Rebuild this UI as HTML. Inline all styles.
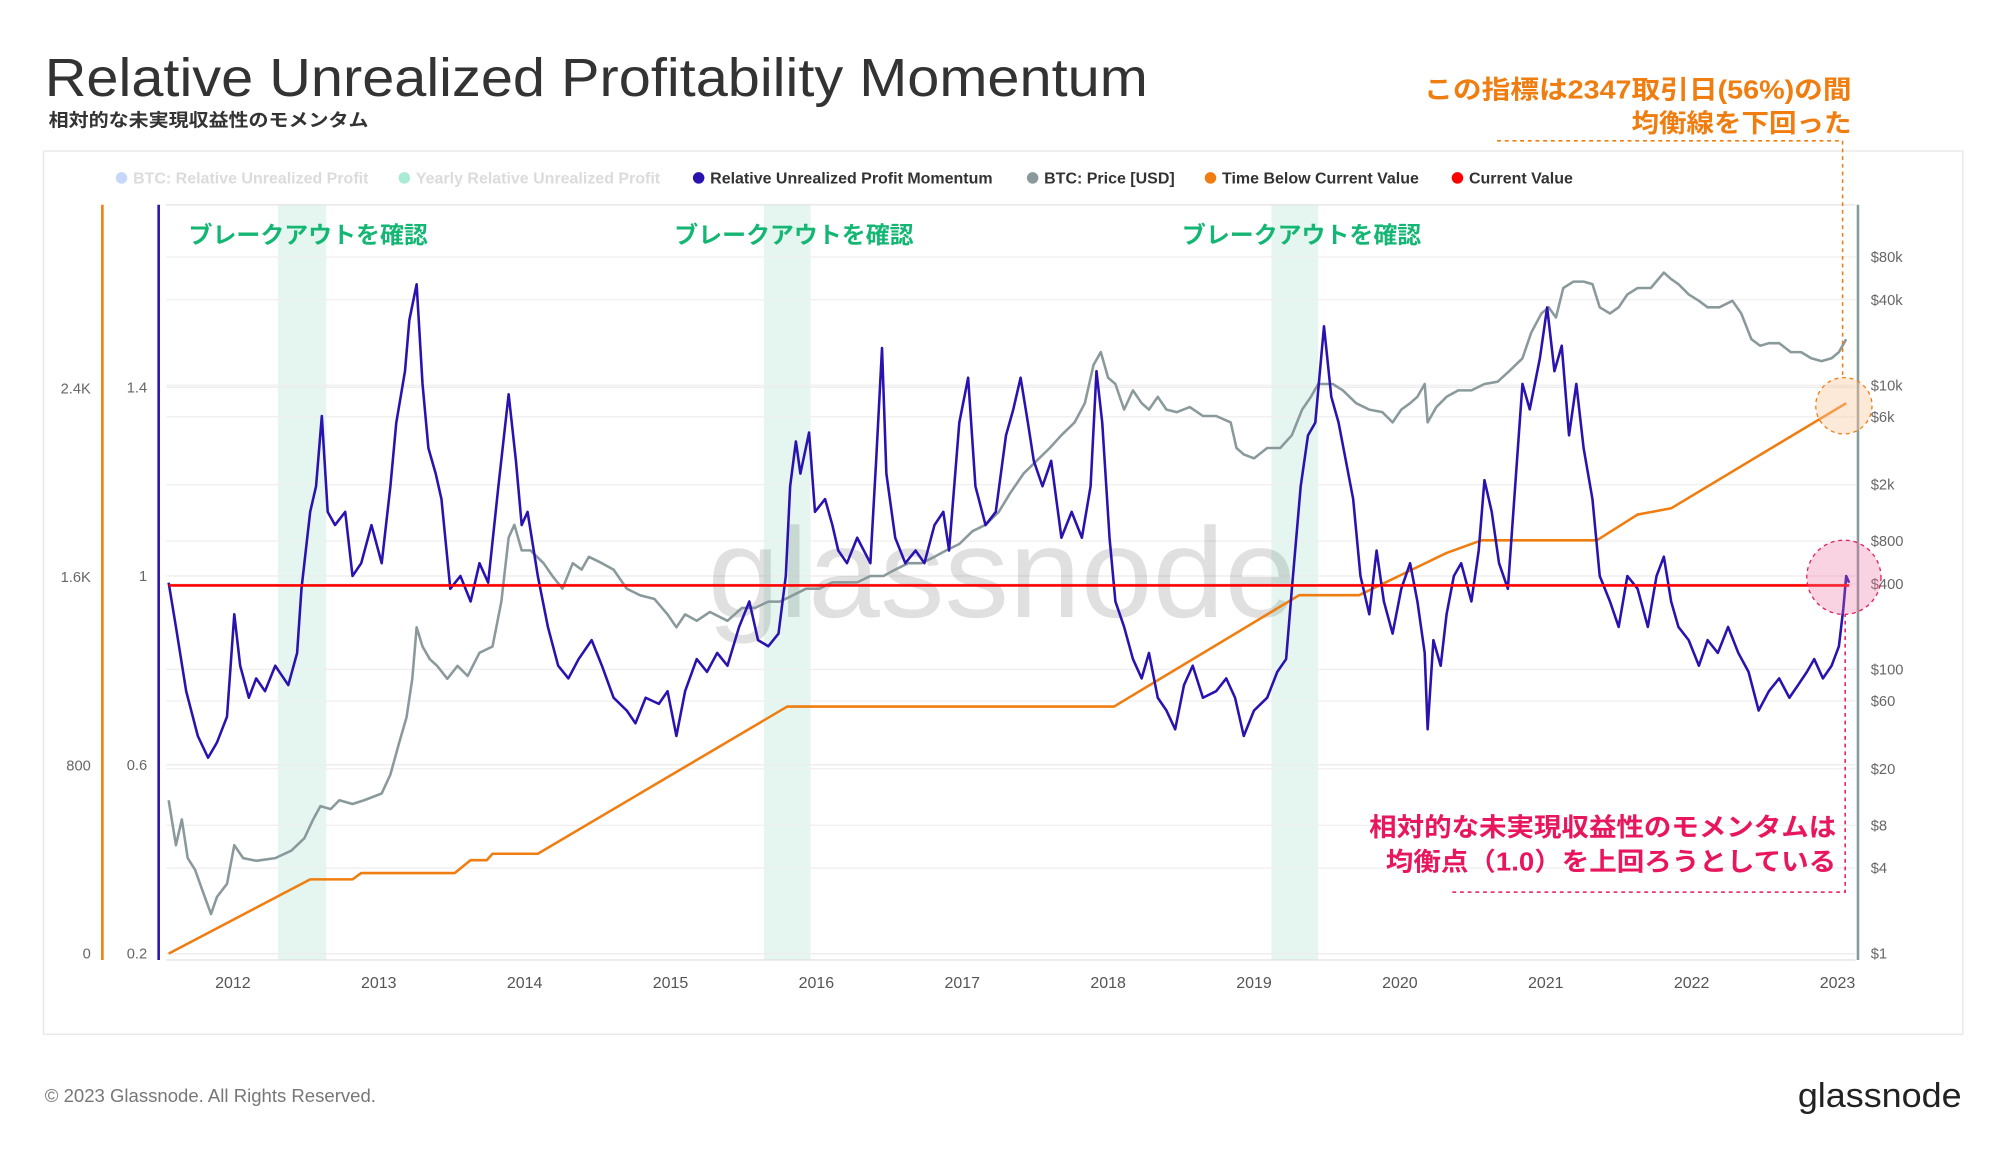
<!DOCTYPE html>
<html><head><meta charset="utf-8">
<style>
html,body{margin:0;padding:0;background:#fff;width:2000px;height:1152px;overflow:hidden}
svg{display:block;font-family:"Liberation Sans","Noto Sans CJK JP",sans-serif}
</style></head>
<body>
<svg id="chart" width="2000" height="1152" viewBox="0 0 1563 900" preserveAspectRatio="none" xmlns="http://www.w3.org/2000/svg">
<text x="35" y="75" font-size="42" fill="#333" textLength="862" lengthAdjust="spacingAndGlyphs">Relative Unrealized Profitability Momentum</text>
<text x="38" y="99" font-size="14" font-weight="bold" fill="#333" textLength="250" lengthAdjust="spacingAndGlyphs">相対的な未実現収益性のモメンタム</text>
<g font-size="20" font-weight="bold" fill="#f07d10" text-anchor="end">
<text x="1447" y="77" textLength="334" lengthAdjust="spacingAndGlyphs">この指標は2347取引日(56%)の間</text>
<text x="1447" y="103" textLength="172" lengthAdjust="spacingAndGlyphs">均衡線を下回った</text>
</g>
<rect x="34" y="118" width="1500" height="690" fill="none" stroke="#e6e6e6"/>
<g id="legend" font-size="12.5"></g>
<g id="bands"></g>
<g id="grid"></g>
<text x="553" y="482" font-size="100" fill="#000" fill-opacity="0.12" textLength="460" lengthAdjust="spacingAndGlyphs">glassnode</text>
<g id="series"></g>
<g id="axes"></g>
<g font-size="20" font-weight="bold" fill="#e8175d" text-anchor="end">
<text x="1435" y="653" textLength="365" lengthAdjust="spacingAndGlyphs">相対的な未実現収益性のモメンタムは</text>
<text x="1435" y="680" textLength="352" lengthAdjust="spacingAndGlyphs">均衡点（1.0）を上回ろうとしている</text>
</g>
<path d="M1170 110 H1440 V296" fill="none" stroke="#f07d10" stroke-width="1.2" stroke-dasharray="3,3"/>
<path d="M1135 697 H1442 V480" fill="none" stroke="#e8175d" stroke-width="1.2" stroke-dasharray="3,3"/>
<circle cx="1441" cy="317" r="22" fill="#f9c89a" fill-opacity="0.4" stroke="#f07d10" stroke-dasharray="3,3"/>
<circle cx="1441" cy="451" r="29" fill="#f06ea0" fill-opacity="0.3" stroke="#e8175d" stroke-dasharray="3,3"/>
<text x="35" y="861" font-size="14.5" fill="#777">© 2023 Glassnode. All Rights Reserved.</text>
<text x="1533" y="865" font-size="27" fill="#222" text-anchor="end" textLength="128" lengthAdjust="spacingAndGlyphs">glassnode</text>
</svg>
<script>
const momYears=[2011.56,2011.61,2011.68,2011.76,2011.83,2011.89,2011.96,2012.01,2012.05,2012.11,2012.16,2012.22,2012.29,2012.38,2012.44,2012.47,2012.53,2012.57,2012.61,2012.65,2012.70,2012.77,2012.82,2012.88,2012.95,2013.02,2013.08,2013.12,2013.18,2013.21,2013.26,2013.30,2013.34,2013.39,2013.43,2013.49,2013.56,2013.63,2013.69,2013.75,2013.82,2013.89,2013.94,2013.98,2014.02,2014.09,2014.16,2014.23,2014.30,2014.37,2014.46,2014.53,2014.61,2014.70,2014.76,2014.83,2014.92,2014.98,2015.04,2015.10,2015.18,2015.25,2015.32,2015.39,2015.47,2015.54,2015.60,2015.67,2015.74,2015.79,2015.82,2015.86,2015.89,2015.95,2015.99,2016.06,2016.11,2016.15,2016.21,2016.28,2016.37,2016.41,2016.45,2016.48,2016.54,2016.61,2016.68,2016.74,2016.81,2016.87,2016.91,2016.98,2017.04,2017.09,2017.16,2017.23,2017.30,2017.35,2017.40,2017.45,2017.49,2017.55,2017.61,2017.68,2017.75,2017.82,2017.88,2017.92,2017.96,2018.01,2018.05,2018.11,2018.17,2018.23,2018.28,2018.34,2018.40,2018.46,2018.52,2018.58,2018.65,2018.74,2018.81,2018.87,2018.93,2019.00,2019.09,2019.16,2019.22,2019.26,2019.32,2019.37,2019.42,2019.48,2019.53,2019.58,2019.63,2019.68,2019.73,2019.79,2019.84,2019.89,2019.95,2020.01,2020.07,2020.12,2020.17,2020.19,2020.23,2020.28,2020.32,2020.37,2020.42,2020.49,2020.54,2020.58,2020.63,2020.68,2020.74,2020.79,2020.84,2020.89,2020.96,2021.01,2021.06,2021.11,2021.16,2021.21,2021.26,2021.32,2021.37,2021.44,2021.50,2021.56,2021.63,2021.70,2021.76,2021.81,2021.86,2021.91,2021.98,2022.05,2022.11,2022.18,2022.25,2022.32,2022.39,2022.46,2022.53,2022.60,2022.67,2022.73,2022.79,2022.84,2022.90,2022.96,2023.01,2023.04,2023.06,2023.08];
const momValues=[0.986,0.892,0.756,0.661,0.615,0.647,0.702,0.919,0.810,0.742,0.783,0.756,0.810,0.769,0.837,0.973,1.136,1.190,1.339,1.136,1.108,1.136,1.0,1.027,1.108,1.027,1.190,1.325,1.434,1.542,1.618,1.407,1.271,1.217,1.163,0.973,1.0,0.946,1.027,0.986,1.190,1.385,1.244,1.108,1.136,1.0,0.892,0.810,0.783,0.824,0.864,0.810,0.742,0.715,0.688,0.742,0.729,0.756,0.661,0.756,0.824,0.797,0.837,0.810,0.892,0.946,0.864,0.851,0.878,1.0,1.190,1.285,1.217,1.304,1.136,1.163,1.108,1.054,1.027,1.081,1.027,1.244,1.483,1.217,1.081,1.027,1.054,1.027,1.108,1.136,1.054,1.325,1.420,1.190,1.108,1.136,1.298,1.353,1.420,1.325,1.244,1.190,1.244,1.081,1.136,1.081,1.190,1.434,1.325,1.081,0.946,0.892,0.824,0.783,0.837,0.742,0.715,0.675,0.769,0.810,0.742,0.756,0.783,0.742,0.661,0.715,0.742,0.797,0.824,0.973,1.190,1.298,1.325,1.529,1.380,1.325,1.244,1.163,1.0,0.919,1.054,0.946,0.878,0.973,1.027,0.946,0.837,0.675,0.864,0.810,0.919,1.0,1.027,0.946,1.054,1.203,1.136,1.027,0.973,1.190,1.407,1.353,1.461,1.569,1.434,1.488,1.298,1.407,1.271,1.163,1.0,0.946,0.892,1.0,0.973,0.892,1.0,1.041,0.946,0.892,0.864,0.810,0.864,0.837,0.892,0.837,0.797,0.715,0.756,0.783,0.742,0.769,0.797,0.824,0.783,0.810,0.851,0.932,1.0,0.986];
const priceYears=[2011.56,2011.61,2011.65,2011.69,2011.74,2011.79,2011.85,2011.89,2011.96,2012.01,2012.07,2012.16,2012.29,2012.40,2012.49,2012.55,2012.60,2012.67,2012.73,2012.82,2012.90,2013.02,2013.08,2013.14,2013.19,2013.23,2013.26,2013.30,2013.35,2013.40,2013.47,2013.54,2013.61,2013.69,2013.78,2013.84,2013.89,2013.93,2013.98,2014.04,2014.13,2014.19,2014.26,2014.33,2014.39,2014.44,2014.53,2014.61,2014.70,2014.79,2014.89,2014.98,2015.04,2015.10,2015.18,2015.27,2015.39,2015.49,2015.58,2015.67,2015.75,2015.84,2015.93,2016.02,2016.11,2016.19,2016.28,2016.37,2016.46,2016.54,2016.63,2016.72,2016.81,2016.89,2016.98,2017.07,2017.16,2017.25,2017.33,2017.42,2017.51,2017.60,2017.68,2017.77,2017.84,2017.90,2017.95,2018.00,2018.05,2018.11,2018.17,2018.23,2018.28,2018.34,2018.40,2018.47,2018.56,2018.65,2018.74,2018.84,2018.88,2018.93,2019.00,2019.09,2019.18,2019.26,2019.33,2019.39,2019.44,2019.49,2019.54,2019.61,2019.70,2019.79,2019.88,2019.95,2020.01,2020.07,2020.12,2020.17,2020.19,2020.25,2020.32,2020.40,2020.49,2020.58,2020.67,2020.75,2020.84,2020.90,2020.97,2021.02,2021.07,2021.12,2021.19,2021.26,2021.32,2021.37,2021.44,2021.50,2021.56,2021.63,2021.72,2021.81,2021.86,2021.91,2021.98,2022.05,2022.11,2022.19,2022.28,2022.34,2022.41,2022.47,2022.53,2022.60,2022.68,2022.75,2022.82,2022.89,2022.96,2023.01,2023.06];
const priceValues=[12,5.8,8.8,4.7,3.9,2.8,1.9,2.5,3.1,5.8,4.7,4.5,4.7,5.3,6.5,8.8,10.9,10.4,12,11.3,12,13.4,18.2,30.6,46,86,198,145,118,106,86,106,90,131,145,300,847,1042,689,689,559,455,370,559,504,621,559,504,370,333,313,244,198,244,220,254,220,271,271,300,300,333,370,370,410,410,410,455,455,504,559,559,621,689,764,940,1042,1282,1750,2390,2940,3620,4450,5480,7480,13900,17100,11300,10200,6740,9200,7480,6740,8300,6740,6470,7030,6080,6080,5480,3620,3260,3060,3620,3620,4450,6740,8300,10200,10200,10200,9200,7480,6740,6470,5480,6740,7480,8300,10200,5480,7030,8300,9200,9200,10200,10600,12600,15500,23400,32000,35400,30000,48400,53700,53700,51500,35400,32000,35400,43600,48400,48400,62100,56000,51500,43600,39300,35400,35400,39300,32000,21100,19000,19800,19800,17100,17100,15500,14800,15500,17100,21100];
const timeYears=[2011.56,2012.53,2012.82,2012.88,2013.52,2013.63,2013.74,2013.78,2014.09,2015.80,2018.04,2019.31,2019.72,2020.32,2020.56,2021.35,2021.63,2021.86,2023.06];
const timeValues=[0,315,315,342,342,397,397,424,424,1049,1049,1522,1522,1701,1755,1755,1864,1891,2337];
const currentValue=0.98;
const xTicks=[2012,2013,2014,2015,2016,2017,2018,2019,2020,2021,2022,2023];
const momTicks=[0.2,0.6,1,1.4];
const momTickLabels=["0.2","0.6","1","1.4"];
const timeTicks=[0,800,1600,2400];
const timeTickLabels=["0","800","1.6K","2.4K"];
const priceTicks=[1,4,8,20,60,100,400,800,2000,6000,10000,40000,80000];
const priceTickLabels=["$1","$4","$8","$20","$60","$100","$400","$800","$2k","$6k","$10k","$40k","$80k"];
const bandStarts=[2012.31,2015.64,2019.12];
const bandEnds=[2012.64,2015.96,2019.44];
const bandLabel="ブレークアウトを確認";

const NS="http://www.w3.org/2000/svg";
const xs=t=>182+(t-2012)*114;
const ym=v=>450-(v-1)*368.75;
const yo=v=>745-v*0.184;
const yp=p=>745-Math.log10(p)*111;
function mk(tag,attrs,parent,txt){const e=document.createElementNS(NS,tag);for(const k in attrs)e.setAttribute(k,attrs[k]);if(txt!==undefined)e.textContent=txt;parent.appendChild(e);return e;}
const G=id=>document.getElementById(id);

const legItems=[["BTC: Relative Unrealized Profit","#5b8def",95,0.35],["Yearly Relative Unrealized Profit","#10c88a",316,0.35],["Relative Unrealized Profit Momentum","#2a12b0",546,1],["BTC: Price [USD]","#8a999c",807,1],["Time Below Current Value","#f07d10",946,1],["Current Value","#ff0000",1139,1]];
legItems.forEach(it=>{
  const g=mk('g',{opacity:it[3]},G('legend'));
  
  
  mk('circle',{cx:it[2],cy:139,r:4.5,fill:it[1]},g);
  mk('text',{x:it[2]+9,y:143.5,fill:it[3]<1?'#999':'#333','font-weight':'bold'},g,it[0]);
});

bandStarts.forEach((s,i)=>{
  const r=mk('rect',{x:xs(s),y:160,width:xs(bandEnds[i])-xs(s),height:590,fill:'#dff5ec',opacity:0.85},G('bands'));
  
  
  const t=mk('text',{x:xs(s)-70,y:190,'font-size':18,'font-weight':'bold',fill:'#14b673',textLength:187,lengthAdjust:'spacingAndGlyphs'},G('bands'),bandLabel);
  
  
});
mk('line',{x1:130,x2:1450,y1:160,y2:160,stroke:'#e4e4e4'},G('grid'));
priceTicks.forEach(p=>{const l=mk('line',{x1:130,x2:1450,y1:yp(p),y2:yp(p),stroke:'#efefef'},G('grid'));});
momTicks.forEach(v=>{const l=mk('line',{x1:130,x2:1450,y1:ym(v),y2:ym(v),stroke:'#ececec'},G('grid'));});

function poly(xsA,ysA,fx,fy,color,w,name){
  const n=Math.min(xsA.length,ysA.length);let d='';
  for(let i=0;i<n;i++)d+=(i?'L':'M')+fx(xsA[i]).toFixed(1)+' '+fy(ysA[i]).toFixed(1);
  const p=mk('path',{d:d,fill:'none',stroke:color,'stroke-width':w,'stroke-linejoin':'round'},G('series'));
  
  
}
poly(priceYears,priceValues,xs,yp,'#8a999c',2,'btc-price-line');
poly(timeYears,timeValues,xs,yo,'#f07d10',2,'time-below-line');
poly(momYears,momValues,xs,ym,'#2a12b0',2,'momentum-line');
const cl=mk('line',{x1:xs(momYears[0]),x2:xs(momYears[momYears.length-1]),y1:ym(currentValue),y2:ym(currentValue),stroke:'#ff0000','stroke-width':2},G('series'));



const A=G('axes');
mk('line',{x1:80,x2:80,y1:160,y2:750,stroke:'#f07d10','stroke-width':2},A);
mk('line',{x1:124,x2:124,y1:160,y2:750,stroke:'#2a12b0','stroke-width':2},A);
mk('line',{x1:1452,x2:1452,y1:160,y2:750,stroke:'#8a999c','stroke-width':2},A);
mk('line',{x1:130,x2:1450,y1:750,y2:750,stroke:'#e0e0e0'},A);
timeTicks.forEach((v,i)=>{const t=mk('text',{x:71,y:yo(v)+4,'font-size':11.5,fill:'#666','text-anchor':'end'},A,timeTickLabels[i]);});
momTicks.forEach((v,i)=>{const t=mk('text',{x:115,y:ym(v)+4,'font-size':11.5,fill:'#666','text-anchor':'end'},A,momTickLabels[i]);});
priceTicks.forEach((p,i)=>{const t=mk('text',{x:1462,y:yp(p)+4,'font-size':11.5,fill:'#666'},A,priceTickLabels[i]);});
xTicks.forEach(y=>{const t=mk('text',{x:xs(y),y:772,'font-size':12.5,fill:'#555','text-anchor':'middle'},A,String(y));});
</script>
</body></html>
